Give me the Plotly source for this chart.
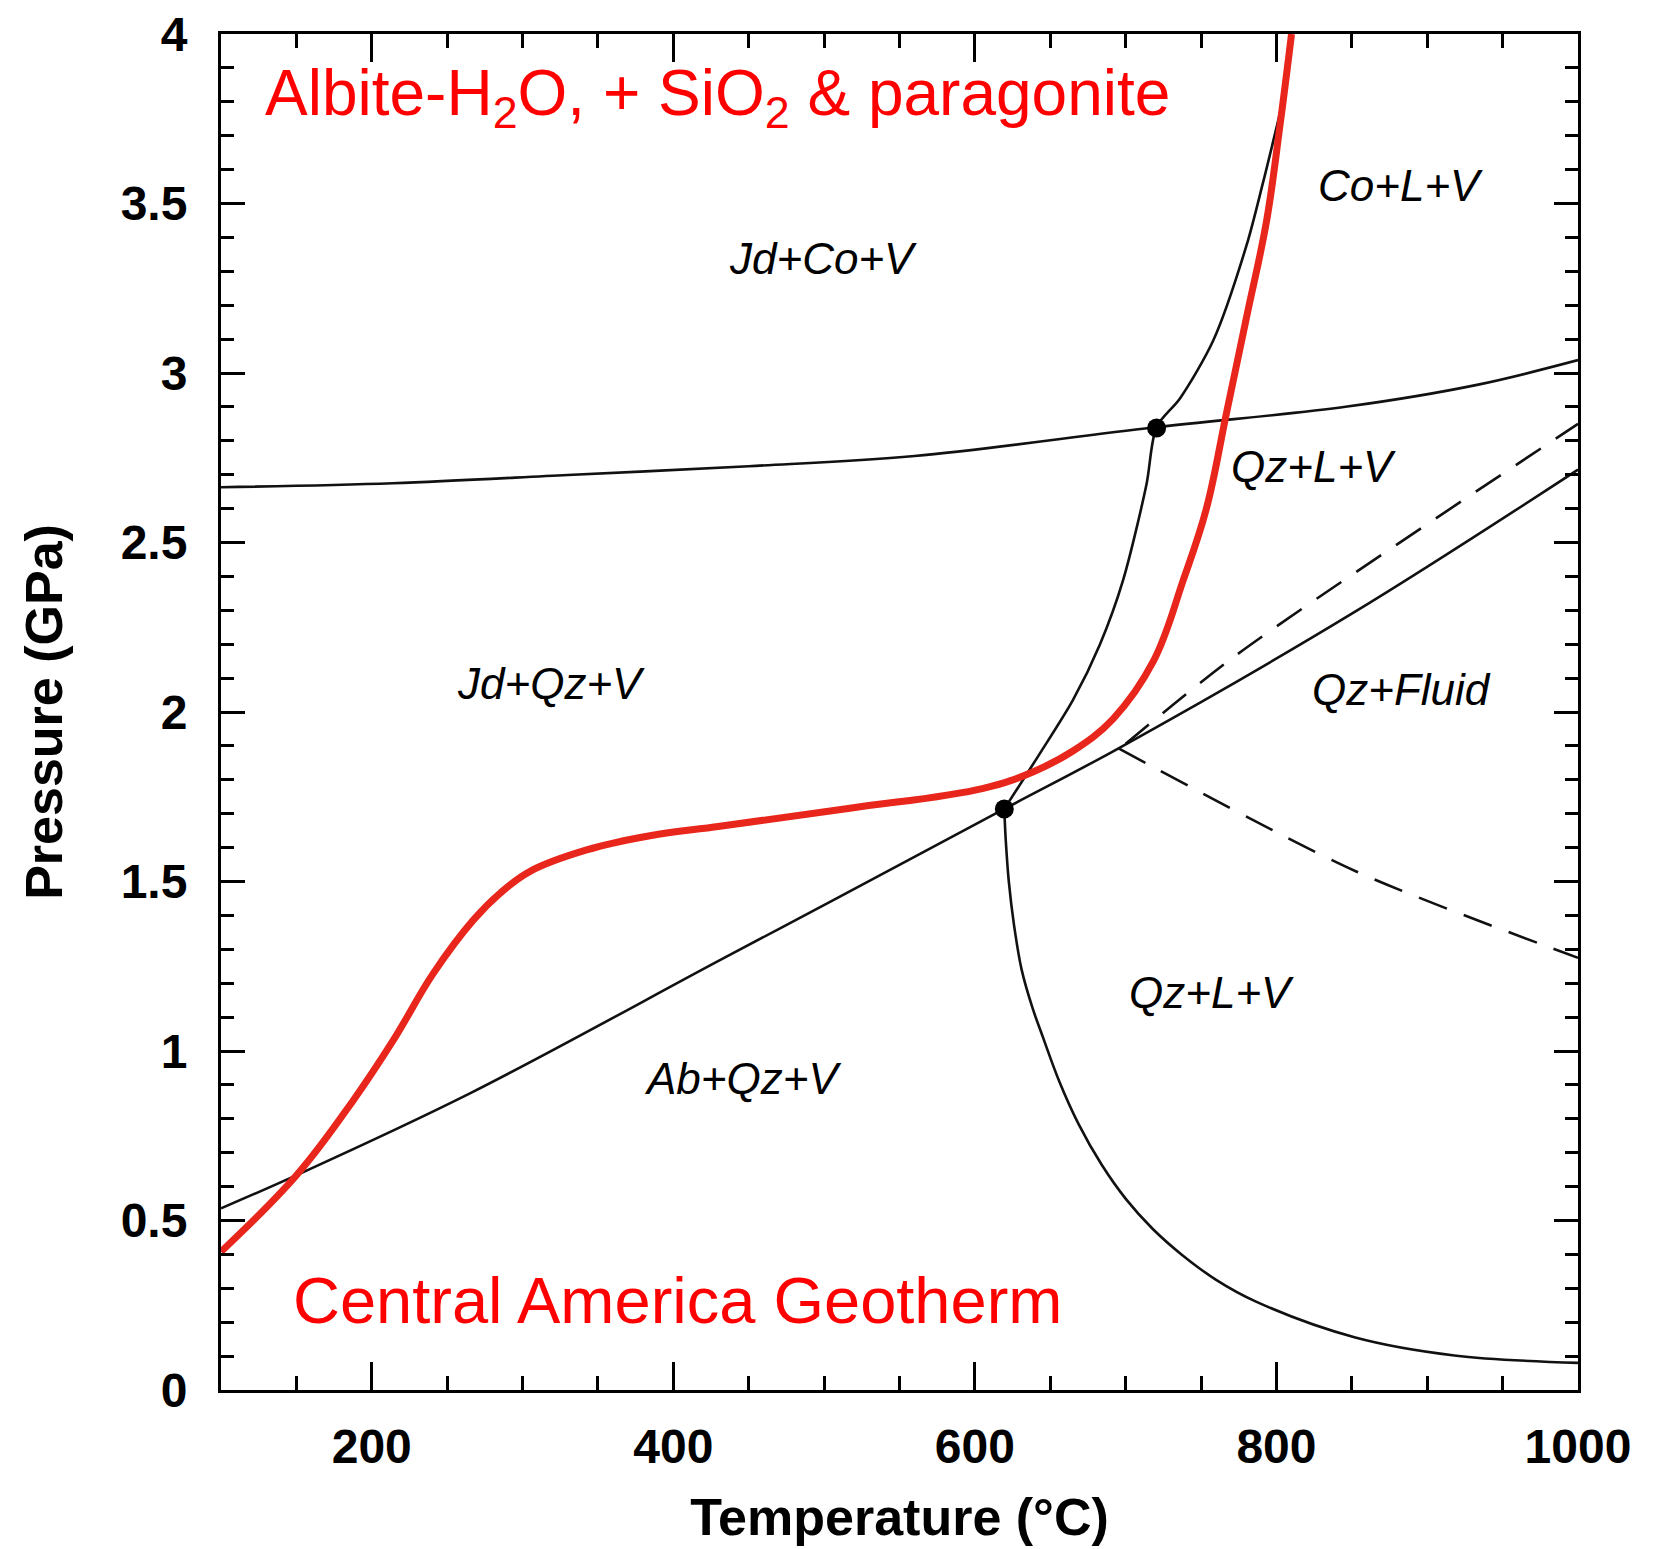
import plotly.graph_objects as go

# ---------------- data ----------------
# Central America geotherm (red)
geo_T = [100, 150.2, 187.8, 214.3, 240.8, 267.3, 285, 305, 342.5, 384.5, 430.9, 517.1,
         605.6, 638.8, 665.0, 691.7, 718.3, 738.2, 753.6, 766.9, 780.2, 793.4, 802.3, 810]
geo_P = [0.408, 0.634, 0.855, 1.032, 1.229, 1.386, 1.465, 1.53, 1.593, 1.635, 1.663, 1.716,
         1.775, 1.824, 1.885, 1.980, 2.149, 2.389, 2.601, 2.883, 3.165, 3.447, 3.729, 4.0]

# Ab + Qz = Jd (+ V) reaction line
ab_T = [100, 150.2, 265.1, 430.9, 506.1, 619.5, 695.3, 850, 1000]
ab_P = [0.536, 0.634, 0.875, 1.268, 1.445, 1.714, 1.893, 2.29, 2.715]

# Quartz = coesite
qc_T = [100, 214, 330, 450, 560, 718, 847, 933, 1000]
qc_P = [2.663, 2.675, 2.699, 2.725, 2.755, 2.839, 2.901, 2.965, 3.038]

# Wet melting curve (Jd field), lower and upper segments
melt_hi_T = [619.5, 642, 665, 683, 698.3, 713.8, 720.5, 736, 758, 780.2, 791, 802]
melt_hi_P = [1.714, 1.87, 2.035, 2.20, 2.389, 2.671, 2.841, 2.925, 3.095, 3.377, 3.56, 3.76]

# Wet melting curve (Ab field)
melt_lo_T = [619.5, 620.5, 622.5, 626, 631, 638, 645.1, 656, 668.7, 684, 700.2, 718, 737,
             760, 786.8, 852.3, 918, 1000]
melt_lo_P = [1.712, 1.62, 1.50, 1.37, 1.24, 1.13, 1.041, 0.91, 0.785, 0.665, 0.563, 0.475, 0.400,
             0.325, 0.260, 0.155, 0.102, 0.080]

# Dashed curves
dash_up_T = [700, 774, 1000]
dash_up_P = [1.906, 2.17, 2.85]
dash_lo_T = [695.3, 852.2, 1000]
dash_lo_P = [1.893, 1.531, 1.275]

# Invariant points
inv_T = [619.5, 720.5]
inv_P = [1.714, 2.838]

# Field labels
lab_text = ["Jd+Co+V", "Co+L+V", "Qz+L+V", "Jd+Qz+V", "Qz+Fluid", "Qz+L+V", "Ab+Qz+V"]
lab_T = [499.5, 882, 824.5, 319, 882.8, 757.1, 446.1]
lab_P = [3.338, 3.553, 2.723, 2.083, 2.067, 1.174, 0.918]

x_ticks = [200, 400, 600, 800, 1000]
y_ticks = [0, 0.5, 1, 1.5, 2, 2.5, 3, 3.5, 4]
y_ticklabels = ["0", "0.5", "1", "1.5", "2", "2.5", "3", "3.5", "4"]

# ---------------- figure ----------------
fig = go.Figure()
BLACK = "#111111"
lw = 2.6

fig.add_trace(go.Scatter(x=ab_T, y=ab_P, mode="lines", line=dict(color=BLACK, width=lw, shape="spline", smoothing=1.0)))
fig.add_trace(go.Scatter(x=qc_T, y=qc_P, mode="lines", line=dict(color=BLACK, width=lw, shape="spline", smoothing=1.0)))
fig.add_trace(go.Scatter(x=melt_hi_T, y=melt_hi_P, mode="lines", line=dict(color=BLACK, width=lw, shape="spline", smoothing=0.8)))
fig.add_trace(go.Scatter(x=melt_lo_T, y=melt_lo_P, mode="lines", line=dict(color=BLACK, width=lw, shape="spline", smoothing=1.0)))
fig.add_trace(go.Scatter(x=dash_up_T, y=dash_up_P, mode="lines", line=dict(color=BLACK, width=lw, dash="30px,18px", shape="spline", smoothing=0.8)))
fig.add_trace(go.Scatter(x=dash_lo_T, y=dash_lo_P, mode="lines", line=dict(color=BLACK, width=lw, dash="30px,18px", shape="spline", smoothing=0.8)))
fig.add_trace(go.Scatter(x=geo_T, y=geo_P, mode="lines", line=dict(color="#e8261c", width=7, shape="spline", smoothing=1.1)))
fig.add_trace(go.Scatter(x=inv_T, y=inv_P, mode="markers", marker=dict(color="black", size=19)))

for t, x, y in zip(lab_text, lab_T, lab_P):
    fig.add_annotation(x=x, y=y, text=t, showarrow=False, xanchor="center", yanchor="middle",
                       font=dict(family="Liberation Sans, Arial", size=44, color="black", style="italic"))

fig.add_annotation(x=128, y=3.813, text="Albite-H<sub>2</sub>O, + SiO<sub>2</sub> &amp; paragonite",
                   showarrow=False, xanchor="left", yanchor="middle",
                   font=dict(family="Liberation Sans, Arial", size=64, color="#ff0000"))
fig.add_annotation(x=146.3, y=0.265, text="Central America Geotherm",
                   showarrow=False, xanchor="left", yanchor="middle",
                   font=dict(family="Liberation Sans, Arial", size=65, color="#ff0000"))

axis_common = dict(
    showgrid=False, zeroline=False, showline=True, linecolor="black", linewidth=3,
    mirror="ticks", ticks="inside", tickwidth=2.5, tickcolor="black", automargin=False,
    ticklabeloverflow="allow",
    tickfont=dict(family="Liberation Sans, Arial", size=48, color="black", weight="bold"),
)

fig.update_xaxes(range=[100, 1000], tickvals=x_ticks, ticklen=28,
                 minor=dict(dtick=50, tick0=100, ticks="inside", ticklen=14, tickwidth=2.5, tickcolor="black"),
                 title=dict(text="Temperature (°C)", standoff=28,
                            font=dict(family="Liberation Sans, Arial", size=52, color="black", weight="bold")),
                 ticklabelstandoff=12,
                 **axis_common)
fig.update_yaxes(range=[0, 4], tickvals=y_ticks, ticktext=y_ticklabels, ticklen=24,
                 minor=dict(dtick=0.1, tick0=0, ticks="inside", ticklen=13, tickwidth=2.5, tickcolor="black"),
                 title=dict(text="Pressure (GPa)", standoff=42,
                            font=dict(family="Liberation Sans, Arial", size=52, color="black", weight="bold")),
                 ticklabelstandoff=21,
                 **axis_common)

# page body adds an 8px offset; size the figure so it fits the window exactly
fig.update_layout(
    width=1652, height=1541,
    margin=dict(l=213, r=82, t=26, b=159),
    paper_bgcolor="white", plot_bgcolor="white",
    showlegend=False,
)

fig.write_html("out.html")
